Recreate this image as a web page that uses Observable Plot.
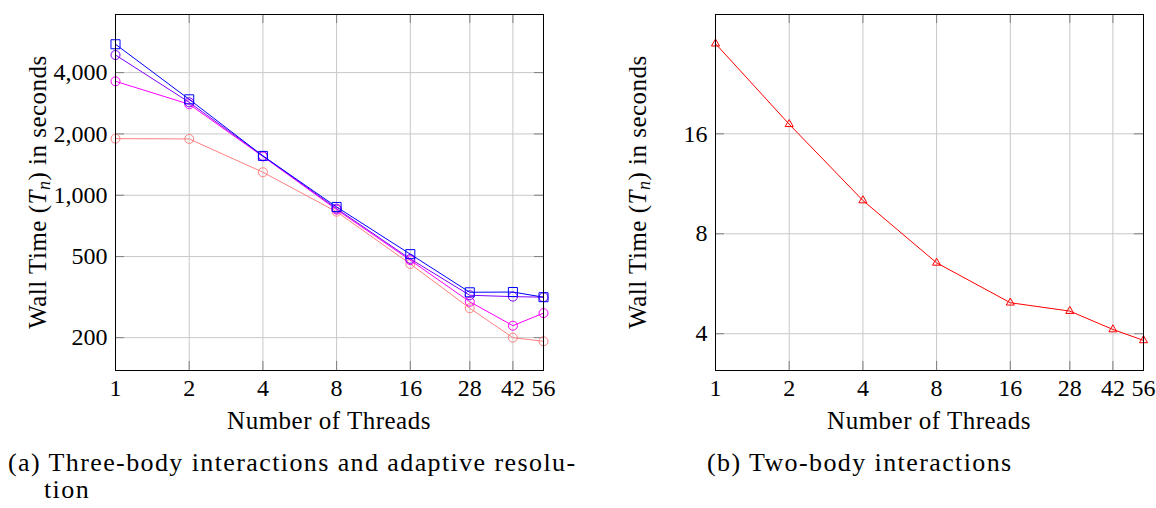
<!DOCTYPE html>
<html>
<head>
<meta charset="utf-8">
<script src="https://cdn.jsdelivr.net/npm/d3@7"></script>
<script src="https://cdn.jsdelivr.net/npm/@observablehq/plot@0.6"></script>
<style>
  html, body { margin: 0; padding: 0; background: #fff; }
  #root { position: relative; width: 1156px; height: 508px; overflow: hidden; font-family: "Liberation Serif", serif; color: #000; }
  .panel { position: absolute; top: 0; }
  .cap { position: absolute; top: 449px; font-size: 26px; letter-spacing: 1.4px; line-height: 27px; white-space: nowrap; }
</style>
</head>
<body>
<div id="root">
  <div class="panel" id="pa" style="left:0px"></div>
  <div class="panel" id="pb" style="left:578px"></div>
  <div class="cap" style="left:8px">(a) Three-body interactions and adaptive resolu-<br><span style="padding-left:36px">tion</span></div>
  <div class="cap" style="left:707px">(b) Two-body interactions</div>
</div>
<script>
// ---------- data ----------
const threads = [1, 2, 4, 8, 16, 28, 42, 56];
const xTicks = [1, 2, 4, 8, 16, 28, 42, 56];
const leftYTicks = [200, 500, 1000, 2000, 4000];
const rightYTicks = [4, 8, 16];

const blueSquares    = [5510, 2957, 1560, 876, 514, 334, 335, 316];
const violetCircles  = [4880, 2860, 1560, 860, 487, 323, 318, 316];
const magentaCircles = [3625, 2797, 1550, 850, 480, 300, 229, 264];
const salmonCircles  = [1896, 1890, 1297, 830, 460, 279, 200, 192];
const twoBody        = [29.9, 17.1, 10.08, 6.54, 4.96, 4.68, 4.12, 3.82];

const leftSeries = [
  {name: "salmon",  values: salmonCircles,  color: "#ff8080", symbol: "circle", r: 4.5},
  {name: "magenta", values: magentaCircles, color: "#ff00ff", symbol: "circle", r: 4.5},
  {name: "violet",  values: violetCircles,  color: "#8000ff", symbol: "circle", r: 4.5},
  {name: "blue",    values: blueSquares,    color: "#0000ff", symbol: "square", r: 5.1}
];
const rightSeries = [
  {name: "red", values: twoBody, color: "#ff0000", symbol: "triangle", r: 3.0}
];

const FONT = "'Liberation Serif', serif";
const W = 578, H = 440, MT = 14, MB = 70;

function panel(series, yTicks, yDomain, yFormat, ml, mr, yLabelX) {
  const xDomain = [1, 56];
  const plotH = H - MT - MB;
  const plotW = W - ml - mr;
  const tick = 9;
  const ky = Math.pow(yDomain[1] / yDomain[0], tick / plotH);
  const kx = Math.pow(xDomain[1] / xDomain[0], tick / plotW);
  const marks = [
    Plot.gridX(xTicks, {stroke: "#c8c8c8", strokeOpacity: 1, strokeWidth: 1}),
    Plot.gridY(yTicks, {stroke: "#c8c8c8", strokeOpacity: 1, strokeWidth: 1}),
    // inward tick marks on all four sides
    Plot.ruleX(xTicks, {x: d => d, y1: yDomain[0], y2: yDomain[0] * ky, stroke: "#808080"}),
    Plot.ruleX(xTicks, {x: d => d, y1: yDomain[1] / ky, y2: yDomain[1], stroke: "#808080"}),
    Plot.ruleY(yTicks, {y: d => d, x1: xDomain[0], x2: xDomain[0] * kx, stroke: "#808080"}),
    Plot.ruleY(yTicks, {y: d => d, x1: xDomain[1] / kx, x2: xDomain[1], stroke: "#808080"}),
    Plot.axisX(xTicks, {anchor: "bottom", tickSize: 0, tickPadding: 8, tickFormat: d => String(d), fontSize: 24, label: null}),
    Plot.axisY(yTicks, {anchor: "left", tickSize: 0, tickPadding: 8, tickFormat: yFormat, fontSize: 24, label: null})
  ];
  for (const s of series) {
    const rows = threads.map((t, i) => ({t, v: s.values[i]}));
    marks.push(Plot.line(rows, {x: "t", y: "v", stroke: s.color, strokeWidth: 1}));
    marks.push(Plot.dot(rows, {x: "t", y: "v", stroke: s.color, fill: "none", symbol: s.symbol, r: s.r, strokeWidth: 1}));
  }
  marks.push(Plot.frame({stroke: "#000", strokeWidth: 1}));
  const svg = Plot.plot({
    width: W, height: H,
    marginLeft: ml, marginRight: mr, marginTop: MT, marginBottom: MB,
    x: {type: "log", base: 2, domain: xDomain, axis: null},
    y: {type: "log", domain: yDomain, axis: null},
    style: {fontFamily: FONT, fontSize: "24px", color: "#000", background: "transparent", overflow: "visible"},
    marks
  });
  const sel = d3.select(svg);
  const yl = sel.append("text")
    .attr("transform", `translate(${yLabelX},${MT + plotH / 2}) rotate(-90)`)
    .attr("text-anchor", "middle")
    .style("font-family", FONT).style("letter-spacing", "0.5px")
    .attr("font-size", 25).attr("fill", "#000");
  yl.append("tspan").text("Wall Time (");
  yl.append("tspan").attr("font-style", "italic").text("T");
  yl.append("tspan").attr("font-style", "italic").attr("font-size", 18).attr("dy", 4).text("n");
  yl.append("tspan").attr("dy", -4).text(") in seconds");
  sel.append("text")
    .attr("x", ml + plotW / 2).attr("y", 429)
    .attr("text-anchor", "middle")
    .style("font-family", FONT).style("letter-spacing", "0.5px")
    .attr("font-size", 25).attr("fill", "#000")
    .text("Number of Threads");
  return svg;
}

document.getElementById("pa").appendChild(
  panel(leftSeries, leftYTicks, [138, 7713], d3.format(","), 115, 35, 46)
);
document.getElementById("pb").appendChild(
  panel(rightSeries, rightYTicks, [3.1, 36.6], d => String(d), 137, 13, 68)
);
</script>
</body>
</html>
